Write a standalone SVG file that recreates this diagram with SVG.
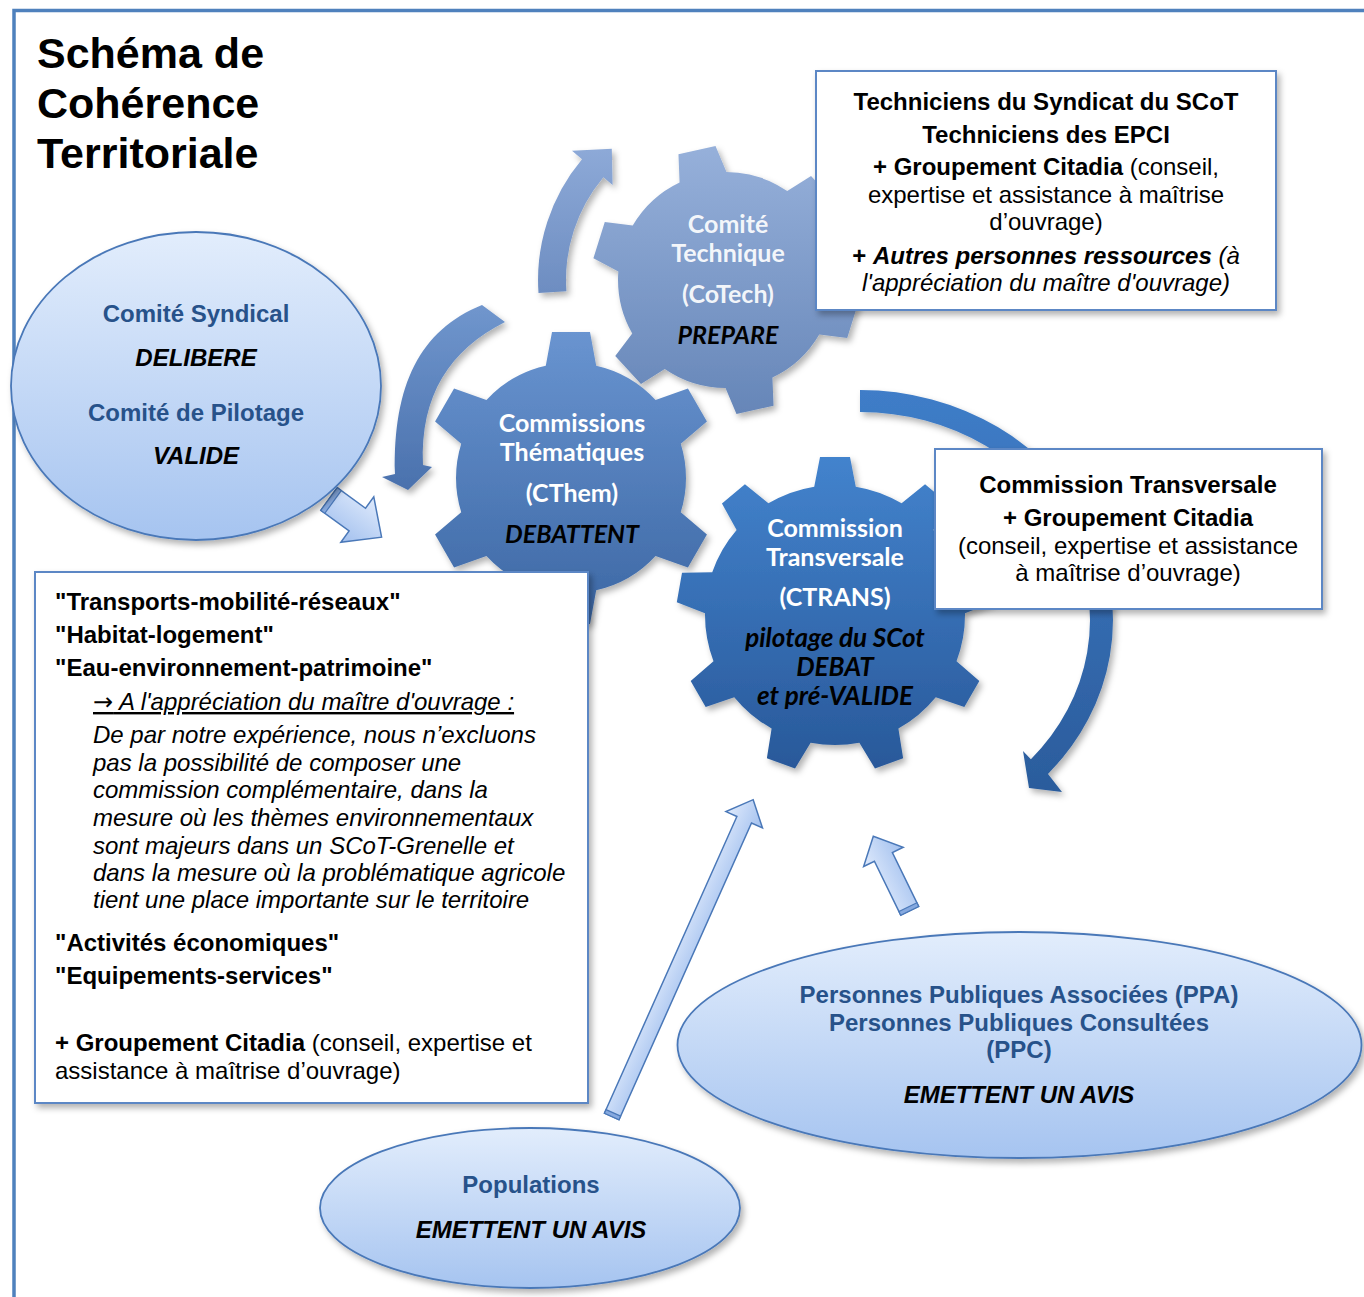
<svg xmlns="http://www.w3.org/2000/svg" width="1364" height="1297" viewBox="0 0 1364 1297">
<style>
text{font-family:"Liberation Sans",Arial,Helvetica,sans-serif;font-size:24px;fill:#000}
.b{font-weight:bold}
.i{font-style:italic}
.c{text-anchor:middle}
.ttl{font-size:43px;font-weight:bold}
.dk{fill:#27528a;font-weight:bold}
.g{font-family:Lato,"Open Sans",sans-serif;font-weight:bold;font-size:25px;fill:#fff;text-anchor:middle}
.gk{fill:#000;font-style:italic}
.gw{font-size:26px}
.arr{font-family:"DejaVu Sans",sans-serif;font-style:normal}
.box{fill:#fff;stroke:#5b87c5;stroke-width:2}
.ell{fill:url(#gEll);stroke:#4a78b8;stroke-width:1.8}
.blk{fill:url(#gBlk);stroke:#4a78b8;stroke-width:1.5}
.tail{fill:#86a9df;stroke:#4a78b8;stroke-width:1.2}
</style>
<defs>
<filter id="sh" x="-10%" y="-10%" width="125%" height="125%">
<feDropShadow dx="3" dy="4" stdDeviation="3" flood-color="#000" flood-opacity="0.3"/>
</filter>
<linearGradient id="gEll" x1="0" y1="0" x2="0" y2="1"><stop offset="0" stop-color="#e2edfc"/><stop offset="1" stop-color="#a6c4f0"/></linearGradient>
<linearGradient id="gBlk" x1="0" y1="0" x2="0" y2="1"><stop offset="0" stop-color="#dfeafc"/><stop offset="1" stop-color="#a2c0ee"/></linearGradient>
<linearGradient id="gCoTech" gradientUnits="userSpaceOnUse" x1="0" y1="147" x2="0" y2="413"><stop offset="0" stop-color="#96b0da"/><stop offset="1" stop-color="#6686b8"/></linearGradient>
<linearGradient id="gCThem" gradientUnits="userSpaceOnUse" x1="0" y1="332" x2="0" y2="624"><stop offset="0" stop-color="#6994d0"/><stop offset="1" stop-color="#3c67a4"/></linearGradient>
<linearGradient id="gCTrans" gradientUnits="userSpaceOnUse" x1="0" y1="457" x2="0" y2="773"><stop offset="0" stop-color="#4383cd"/><stop offset="1" stop-color="#285899"/></linearGradient>
<linearGradient id="aCoTech" gradientUnits="userSpaceOnUse" x1="0" y1="145" x2="0" y2="293"><stop offset="0" stop-color="#8eaad8"/><stop offset="1" stop-color="#6d8dc1"/></linearGradient>
<linearGradient id="aCThem" gradientUnits="userSpaceOnUse" x1="0" y1="305" x2="0" y2="490"><stop offset="0" stop-color="#7096cd"/><stop offset="1" stop-color="#4a71ad"/></linearGradient>
<linearGradient id="aCTrans" gradientUnits="userSpaceOnUse" x1="0" y1="390" x2="0" y2="792"><stop offset="0" stop-color="#3f7dc8"/><stop offset="1" stop-color="#2b5c9c"/></linearGradient>
<polygon id="t9" points="-22,-122 -15,-158 15,-158 22,-122"/>
<polygon id="t6a" points="-26,-108 -19,-146 19,-146 26,-108"/>
<polygon id="t6b" points="-25,-100 -19,-133 19,-133 25,-100"/>
<clipPath id="cpCoTech">
<circle cx="726" cy="280" r="108"/>
<use href="#t6b" transform="translate(726 280) rotate(47.4)"/>
<use href="#t6b" transform="translate(726 280) rotate(107.4)"/>
<use href="#t6b" transform="translate(726 280) rotate(167.4)"/>
<use href="#t6b" transform="translate(726 280) rotate(227.4)"/>
<use href="#t6b" transform="translate(726 280) rotate(287.4)"/>
<use href="#t6b" transform="translate(726 280) rotate(347.4)"/>
</clipPath>
<clipPath id="cpCThem">
<circle cx="571" cy="478" r="115"/>
<use href="#t6a" transform="translate(571 478) rotate(0)"/>
<use href="#t6a" transform="translate(571 478) rotate(60)"/>
<use href="#t6a" transform="translate(571 478) rotate(120)"/>
<use href="#t6a" transform="translate(571 478) rotate(180)"/>
<use href="#t6a" transform="translate(571 478) rotate(240)"/>
<use href="#t6a" transform="translate(571 478) rotate(300)"/>
</clipPath>
<clipPath id="cpCTrans">
<circle cx="835" cy="615" r="130"/>
<use href="#t9" transform="translate(835 615) rotate(0)"/>
<use href="#t9" transform="translate(835 615) rotate(40)"/>
<use href="#t9" transform="translate(835 615) rotate(80)"/>
<use href="#t9" transform="translate(835 615) rotate(120)"/>
<use href="#t9" transform="translate(835 615) rotate(160)"/>
<use href="#t9" transform="translate(835 615) rotate(200)"/>
<use href="#t9" transform="translate(835 615) rotate(240)"/>
<use href="#t9" transform="translate(835 615) rotate(280)"/>
<use href="#t9" transform="translate(835 615) rotate(320)"/>
</clipPath>
</defs>

<rect width="1364" height="1297" fill="#fff"/>
<path id="frame" d="M14,1297 V10.5 H1364" fill="none" stroke="#4f81bd" stroke-width="3.5"/>

<g id="title">
<text class="ttl" x="37" y="68">Schéma de</text>
<text class="ttl" x="37" y="118">Cohérence</text>
<text class="ttl" x="37" y="168">Territoriale</text>
</g>

<g id="connectors">
<g filter="url(#sh)">
<path id="arc-cotech" fill="url(#aCoTech)" d="M538.5,293.1 A188,188 0 0 1 582,159.2 L572,150.8 L611.8,148.7 L612.6,184.9 L603.4,177.2 A160,160 0 0 0 566.4,291.2 Z"/>
<path id="arc-cthem" fill="url(#aCThem)" d="M482,305 C420,330 393,385 395,474 L382,477 L408,490 L432,467 L423,465 C420,395 450,350 505,322 Z"/>
<path id="arc-ctrans" fill="url(#aCTrans)" d="M860,390 A253,230 0 0 1 1048,773.9 L1062,792 L1029,788 L1023,751 L1030.9,759.2 A230,208 0 0 0 860,412 Z"/>
</g>
<g id="arrow-syndical" transform="translate(329 499) rotate(36)">
<polygon class="blk" points="0,-14 35,-14 35,-28 65,0 35,28 35,14 0,14"/>
<rect class="tail" x="0" y="-14" width="5" height="28"/>
</g>
<g id="arrow-populations" transform="translate(611.7 1116.5) rotate(-65.94)">
<polygon class="blk" points="0,-8 325,-8 325,-20 347,0 325,20 325,8 0,8"/>
<rect class="tail" x="0" y="-8" width="4" height="16"/>
</g>
<g id="arrow-ppa" transform="translate(909.7 910.8) rotate(-116)">
<polygon class="blk" points="0,-10 60,-10 60,-22 83,0 60,22 60,10 0,10"/>
<rect class="tail" x="0" y="-10" width="4" height="20"/>
</g>
</g>

<g id="gear-cotech">
<g filter="url(#sh)"><rect x="580" y="140" width="300" height="290" fill="url(#gCoTech)" clip-path="url(#cpCoTech)"/></g>
<text class="g" x="728" y="233" fill-opacity="0.92">Comité</text>
<text class="g" x="728" y="262" fill-opacity="0.92">Technique</text>
<text class="g" x="728" y="303" fill-opacity="0.92">(CoTech)</text>
<text class="g gk" x="728" y="344">PREPARE</text>
</g>

<g id="gear-cthem">
<g filter="url(#sh)"><rect x="410" y="320" width="320" height="320" fill="url(#gCThem)" clip-path="url(#cpCThem)"/></g>
<text class="g" x="572" y="432">Commissions</text>
<text class="g" x="572" y="461">Thématiques</text>
<text class="g" x="572" y="502">(CThem)</text>
<text class="g gk" x="572" y="543">DEBATTENT</text>
</g>

<g id="gear-ctrans">
<g filter="url(#sh)"><rect x="660" y="440" width="350" height="350" fill="url(#gCTrans)" clip-path="url(#cpCTrans)"/></g>
<text class="g" x="835" y="537">Commission</text>
<text class="g" x="835" y="566">Transversale</text>
<text class="g" x="835" y="606">(CTRANS)</text>
<text class="g gk gw" x="835" y="647">pilotage du SCot</text>
<text class="g gk gw" x="835" y="676">DEBAT</text>
<text class="g gk gw" x="835" y="705">et pré-VALIDE</text>
</g>

<g id="comite-syndical">
<ellipse class="ell" cx="196" cy="386" rx="185" ry="154" filter="url(#sh)"/>
<text class="dk c" x="196" y="322">Comité Syndical</text>
<text class="b i c" x="196" y="366">DELIBERE</text>
<text class="dk c" x="196" y="421">Comité de Pilotage</text>
<text class="b i c" x="196" y="464">VALIDE</text>
</g>

<g id="box-cotech">
<rect class="box" x="816" y="71" width="460" height="239" filter="url(#sh)"/>
<text class="b c" x="1046" y="110">Techniciens du Syndicat du SCoT</text>
<text class="b c" x="1046" y="143">Techniciens des EPCI</text>
<text class="c" x="1046" y="175"><tspan class="b">+ Groupement Citadia</tspan> (conseil,</text>
<text class="c" x="1046" y="203">expertise et assistance à maîtrise</text>
<text class="c" x="1046" y="230">d’ouvrage)</text>
<text class="c" x="1046" y="264"><tspan class="b">+ </tspan><tspan class="b i">Autres personnes ressources</tspan><tspan class="i"> (à</tspan></text>
<text class="c i" x="1046" y="291">l'appréciation du maître d'ouvrage)</text>
</g>

<g id="box-ctrans">
<rect class="box" x="935" y="449" width="387" height="160" filter="url(#sh)"/>
<text class="b c" x="1128" y="493">Commission Transversale</text>
<text class="b c" x="1128" y="526">+ Groupement Citadia</text>
<text class="c" x="1128" y="554">(conseil, expertise et assistance</text>
<text class="c" x="1128" y="581">à maîtrise d’ouvrage)</text>
</g>

<g id="box-cthem">
<rect class="box" x="35" y="572" width="553" height="531" filter="url(#sh)"/>
<text class="b" x="55" y="610">"Transports-mobilité-réseaux"</text>
<text class="b" x="55" y="643">"Habitat-logement"</text>
<text class="b" x="55" y="676">"Eau-environnement-patrimoine"</text>
<text class="i" x="93" y="710" text-decoration="underline"><tspan class="arr">→</tspan> A l'appréciation du maître d'ouvrage :</text>
<text class="i" x="93" y="743">De par notre expérience, nous n’excluons</text>
<text class="i" x="93" y="771">pas la possibilité de composer une</text>
<text class="i" x="93" y="798">commission complémentaire, dans la</text>
<text class="i" x="93" y="826">mesure où les thèmes environnementaux</text>
<text class="i" x="93" y="854">sont majeurs dans un SCoT-Grenelle et</text>
<text class="i" x="93" y="881">dans la mesure où la problématique agricole</text>
<text class="i" x="93" y="908">tient une place importante sur le territoire</text>
<text class="b" x="55" y="951">"Activités économiques"</text>
<text class="b" x="55" y="984">"Equipements-services"</text>
<text x="55" y="1051"><tspan class="b">+ Groupement Citadia</tspan> (conseil, expertise et</text>
<text x="55" y="1079">assistance à maîtrise d’ouvrage)</text>
</g>

<g id="ppa">
<ellipse class="ell" cx="1019.5" cy="1045" rx="342" ry="113" filter="url(#sh)"/>
<text class="dk c" x="1019" y="1003">Personnes Publiques Associées (PPA)</text>
<text class="dk c" x="1019" y="1031">Personnes Publiques Consultées</text>
<text class="dk c" x="1019" y="1058">(PPC)</text>
<text class="b i c" x="1019" y="1103">EMETTENT UN AVIS</text>
</g>

<g id="populations">
<ellipse class="ell" cx="530" cy="1208" rx="210" ry="80" filter="url(#sh)"/>
<text class="dk c" x="531" y="1193">Populations</text>
<text class="b i c" x="531" y="1238">EMETTENT UN AVIS</text>
</g>
</svg>
